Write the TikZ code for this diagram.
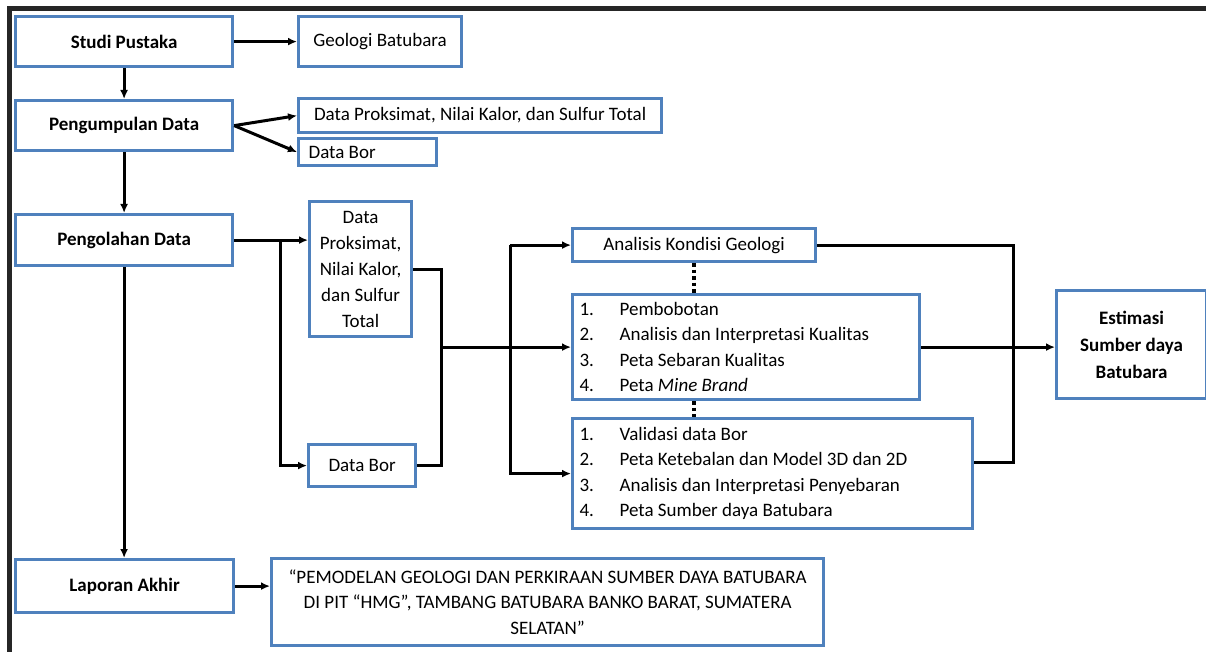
\documentclass[tikz,border=0pt]{standalone}
\usepackage{fontspec}
\setmainfont{Carlito}
\usetikzlibrary{arrows.meta}
\definecolor{kotakbiru}{RGB}{79,129,189}
\newcommand{\teks}{\fontsize{19}{25.5}\selectfont}
\newcommand{\nomor}[1]{\makebox[40pt][l]{#1}}
\newcommand{\isian}[2]{\begin{minipage}{#1}\teks #2\end{minipage}}
\tikzset{
  kotak/.style={draw=kotakbiru, line width=3.2pt, fill=white, inner sep=0pt, anchor=north west, align=center, font=\teks},
  panah/.style={line width=3pt, -{Latex[length=9pt,width=8pt]}},
  garis/.style={line width=3pt},
  titik/.style={line width=3.5pt, dash pattern=on 3.5pt off 3pt},
}
\begin{document}
\begin{tikzpicture}[x=1pt, y=-1pt]
  \useasboundingbox (0,0) rectangle (1206,652);
  % bingkai
  \draw[line width=5pt, black!85] (9,652) -- (9,9) -- (1206,9);
  % kolom kiri
  \node[kotak, minimum width=217pt, minimum height=50pt] (studi) at (14,15) {\bfseries Studi Pustaka};
  \node[kotak, minimum width=217pt, minimum height=50pt] (kumpul) at (14,99) {\bfseries Pengumpulan Data};
  \node[kotak, minimum width=217pt, minimum height=51pt] (olah) at (14,213) {\bfseries Pengolahan Data};
  \node[kotak, minimum width=218pt, minimum height=53pt] (laporan) at (14,558) {\bfseries Laporan Akhir};
  % hasil
  \node[kotak, minimum width=163pt, minimum height=50pt] (geologi) at (297,15) {Geologi Batubara};
  \node[kotak, minimum width=363pt, minimum height=34pt] (proksA) at (297,97) {Data Proksimat, Nilai Kalor, dan Sulfur Total};
  \node[kotak, minimum width=138pt, minimum height=27pt] (borA) at (297,137) {\makebox[118pt][l]{Data Bor}};
  \node[kotak, minimum width=102pt, minimum height=135pt, font=\fontsize{19}{26}\selectfont] (proksB) at (308,200) {Data\\Proksimat,\\Nilai Kalor,\\dan Sulfur\\Total};
  \node[kotak, minimum width=107pt, minimum height=42pt] (borB) at (307,443) {Data Bor};
  \node[kotak, minimum width=552pt, minimum height=87pt] (judul) at (270,557) {“PEMODELAN GEOLOGI DAN PERKIRAAN SUMBER DAYA BATUBARA\\DI PIT “HMG”, TAMBANG BATUBARA BANKO BARAT, SUMATERA\\SELATAN”};
  % analisis
  \node[kotak, minimum width=243pt, minimum height=33pt] (analisis) at (571,227) {Analisis Kondisi Geologi};
  \node[kotak, minimum width=347pt, minimum height=105pt] (kualitas) at (571,293) {\isian{333pt}{\nomor{1.}Pembobotan\\\nomor{2.}Analisis dan Interpretasi Kualitas\\\nomor{3.}Peta Sebaran Kualitas\\\nomor{4.}Peta \textit{Mine Brand}}};
  \node[kotak, minimum width=400pt, minimum height=110pt] (sebaran) at (571,417) {\isian{386pt}{\nomor{1.}Validasi data Bor\\\nomor{2.}Peta Ketebalan dan Model 3D dan 2D\\\nomor{3.}Analisis dan Interpretasi Penyebaran\\\nomor{4.}Peta Sumber daya Batubara}};
  \node[kotak, minimum width=150pt, minimum height=108pt, font=\fontsize{19}{27}\selectfont\bfseries] (estimasi) at (1055,289) {Estimasi\\Sumber daya\\Batubara};
  % titik simpang
  \coordinate (simpangA) at (280,0);
  \coordinate (simpangB) at (441,0);
  \coordinate (simpangC) at (510,0);
  \coordinate (simpangD) at (1013,0);
  \coordinate (masukD) at ([yshift=11pt]sebaran.east);
  % alur utama
  \draw[panah] (studi) -- (geologi);
  \draw[panah] (studi) -- (kumpul);
  \draw[panah] (kumpul.east) -- (proksA.west);
  \draw[panah] (kumpul.east) -- (borA.west);
  \draw[panah] (kumpul) -- (olah);
  \draw[panah] (olah.south) -- (olah.south |- laporan.north);
  \draw[panah] (laporan.east) -- (judul.west |- laporan.east);
  % pengolahan
  \draw[panah] (olah.east) -- (proksB.west |- olah.east);
  \draw[panah] (simpangA |- olah.east) |- (borB.west);
  \draw[garis] (proksB.east) -| (simpangB |- borB.east) -- (borB.east);
  \draw[panah] (simpangB |- kualitas.west) -- (kualitas.west);
  \draw[panah] (simpangC |- analisis.west) -- (analisis.west);
  \draw[panah] (simpangC |- analisis.west) |- (sebaran.west);
  \draw[garis] (analisis.east) -| (simpangD |- masukD) -- (masukD);
  \draw[panah] (kualitas.east) -- (kualitas.east -| estimasi.west);
  \draw[titik] (analisis.south) -- (analisis.south |- kualitas.north);
  \draw[titik] (analisis.south |- kualitas.south) -- (analisis.south |- sebaran.north);
\end{tikzpicture}
\end{document}
